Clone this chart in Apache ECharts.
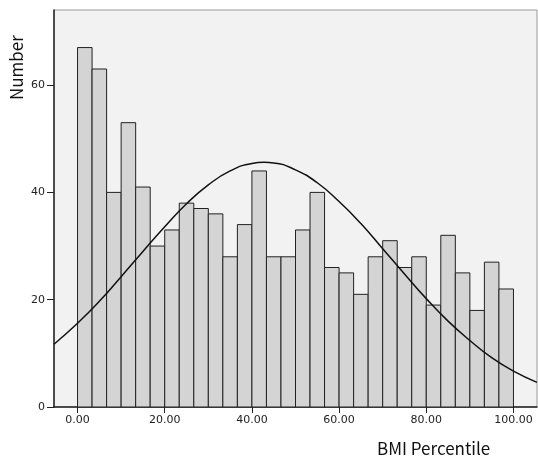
<!DOCTYPE html>
<html>
<head>
<meta charset="utf-8">
<title>BMI Percentile</title>
<script src="https://cdn.jsdelivr.net/npm/echarts@6/dist/echarts.min.js"></script>
<style>
  html, body { margin: 0; padding: 0; background: #fff; }
  #main { width: 538px; height: 465px; }
</style>
</head>
<body>
<div id="main"></div>
<script>
// histogram: 30 bins covering 0 - 100
var binWidth = 100 / 30;
var counts = [67, 63, 40, 53, 41, 30, 33, 38, 37, 36, 28, 34, 44, 28, 28,
              33, 40, 26, 25, 21, 28, 31, 26, 28, 19, 32, 25, 18, 27, 22];
// normal curve
var curveX = [-5.4, 0, 5, 10, 15, 20, 25, 30, 35, 40, 42.8, 45, 50, 55, 60, 65, 70, 75, 80, 85, 90, 95, 100, 105.4];
var curveY = [11.7, 15.6, 19.7, 24.3, 29.0, 33.6, 37.9, 41.4, 44.0, 45.4, 45.6, 45.5, 44.2, 41.8, 38.3, 34.2, 29.5, 24.8, 20.2, 16.0, 12.4, 9.2, 6.7, 4.6];
var xTicks = [0, 20, 40, 60, 80, 100];
var yTicks = [0, 20, 40, 60];

var barData = counts.map(function (c, i) {
  return [i * binWidth, (i + 1) * binWidth, c];
});
var curveData = curveX.map(function (x, i) { return [x, curveY[i]]; });

var chart = echarts.init(document.getElementById('main'));
chart.setOption({
  animation: false,
  grid: {
    left: 54, right: 1, top: 10, bottom: 58,
    show: true,
    backgroundColor: '#f2f2f2',
    borderColor: '#999',
    borderWidth: 1
  },
  xAxis: {
    type: 'value',
    min: -5.4,
    max: 105.4,
    axisLine: { onZero: false, lineStyle: { color: '#222', width: 1.5 } },
    axisTick: { show: true, length: 6, customValues: xTicks, lineStyle: { color: '#222' } },
    axisLabel: {
      customValues: xTicks,
      color: '#222',
      fontSize: 11,
      fontFamily: 'DejaVu Sans',
      margin: 8,
      formatter: function (v) { return v.toFixed(2); }
    },
    splitLine: { show: false }
  },
  yAxis: {
    type: 'value',
    min: 0,
    max: 74,
    axisLine: { show: true, onZero: false, lineStyle: { color: '#222', width: 1.5 } },
    axisTick: { show: true, length: 7, customValues: yTicks, lineStyle: { color: '#222' } },
    axisLabel: {
      customValues: yTicks,
      color: '#222',
      fontSize: 11,
      fontFamily: 'DejaVu Sans',
      margin: 9
    },
    splitLine: { show: false }
  },
  graphic: [
    {
      type: 'text',
      x: 8, y: 100,
      rotation: Math.PI / 2,
      style: {
        text: 'Number',
        fontSize: 17,
        fontFamily: 'Noto Sans CJK KR',
        fill: '#111'
      }
    },
    {
      type: 'text',
      x: 377, y: 440,
      style: {
        text: 'BMI Percentile',
        fontSize: 17,
        fontFamily: 'Noto Sans CJK KR',
        fill: '#111'
      }
    }
  ],
  series: [
    {
      type: 'custom',
      data: barData,
      encode: { x: [0, 1], y: 2 },
      renderItem: function (params, api) {
        var p0 = api.coord([api.value(0), 0]);
        var p1 = api.coord([api.value(1), api.value(2)]);
        return {
          type: 'rect',
          shape: { x: p0[0], y: p1[1], width: p1[0] - p0[0], height: p0[1] - p1[1] },
          style: { fill: '#d4d4d4', stroke: '#222', lineWidth: 1 }
        };
      }
    },
    {
      type: 'line',
      data: curveData,
      smooth: true,
      symbol: 'none',
      lineStyle: { color: '#111', width: 1.5 },
      z: 5
    }
  ]
});
</script>
</body>
</html>
